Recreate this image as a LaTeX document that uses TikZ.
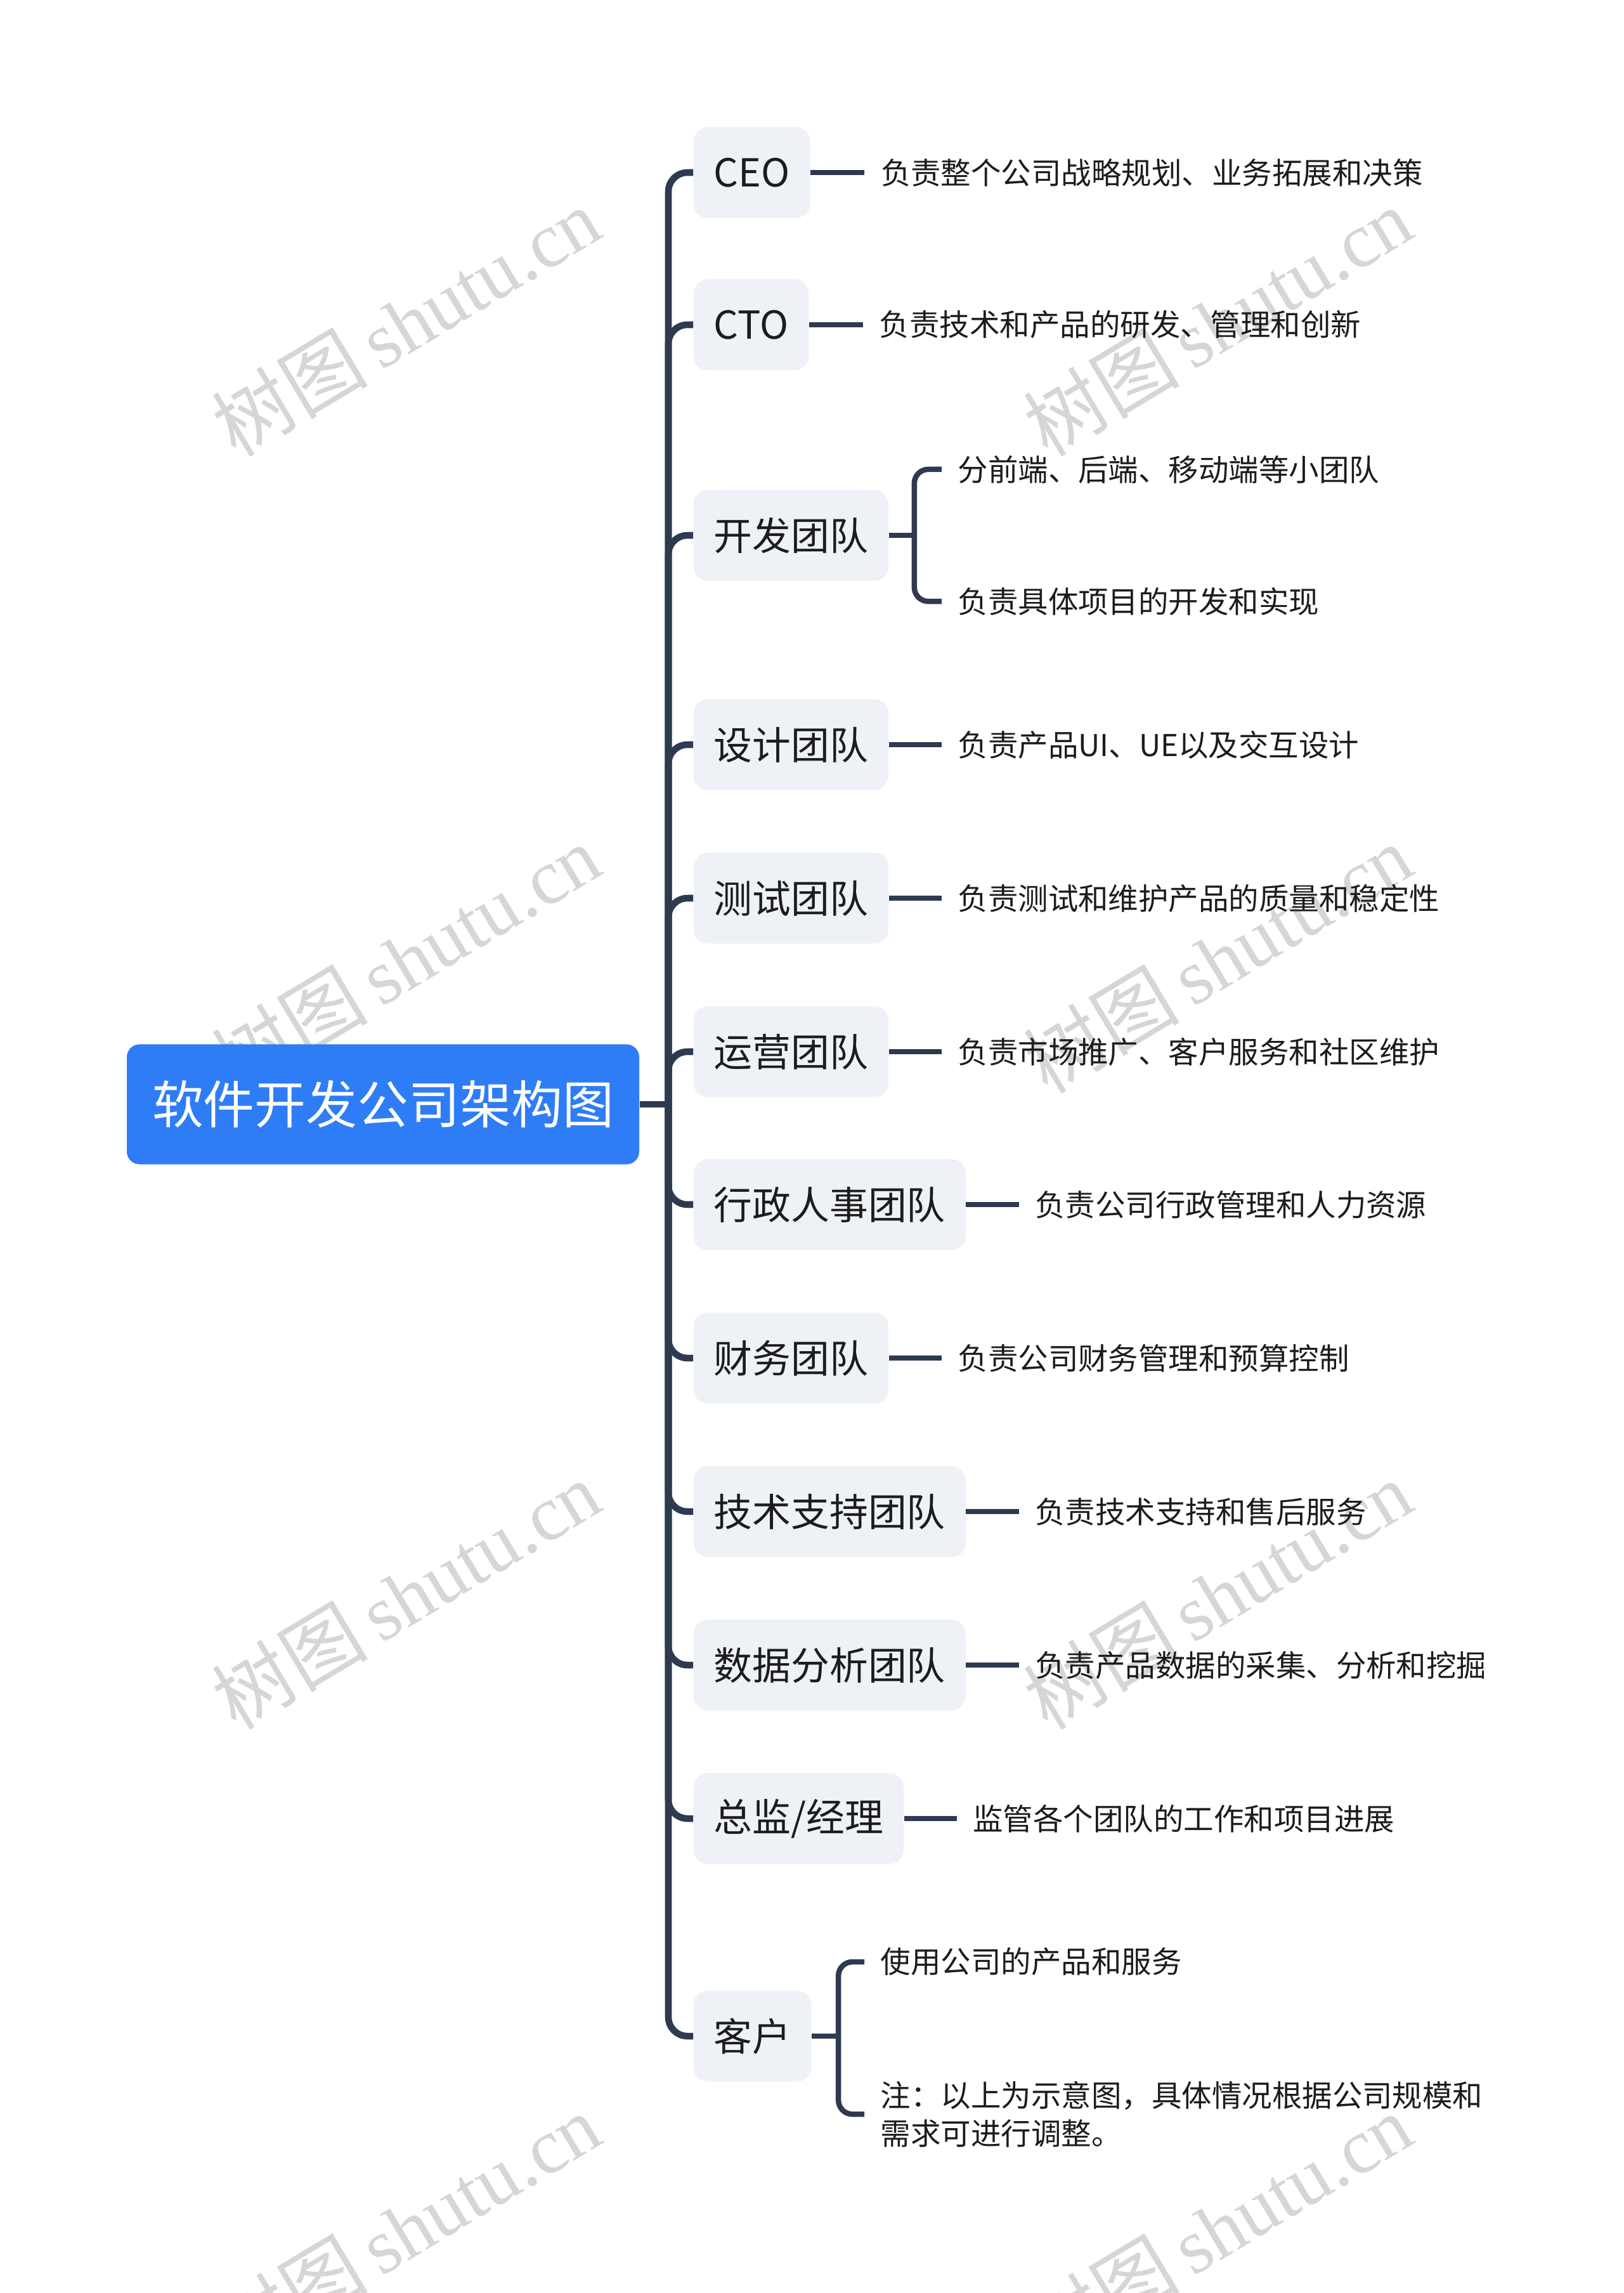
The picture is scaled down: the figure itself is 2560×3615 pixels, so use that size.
\documentclass[tikz,border=0pt]{standalone}
\usepackage{fontspec}
\setmainfont{Noto Sans CJK SC}
\newfontfamily\markfont{Liberation Serif}
\definecolor{rootblue}{RGB}{47,125,246}
\definecolor{branchgray}{RGB}{238,241,245}
\definecolor{linenavy}{RGB}{45,58,80}
\definecolor{textdark}{RGB}{28,28,28}
\definecolor{markgray}{RGB}{214,214,214}

\begin{document}
\begin{tikzpicture}[x=0.01cm,y=-0.01cm,
  root/.style={fill=rootblue, text=white, rounded corners=0.2cm, minimum height=1.89cm, inner xsep=0.4cm, font=\fontsize{23}{28}\selectfont},
  branch/.style={fill=branchgray, text=textdark, rounded corners=0.22cm, anchor=west, minimum height=1.43cm, inner xsep=0.32cm, font=\fontsize{17.3}{20}\selectfont},
  leaf/.style={anchor=west, text=textdark, inner xsep=0.25cm, align=left, font=\fontsize{13.5}{17}\selectfont},
  trunk/.style={draw=linenavy, line width=3pt, rounded corners=0.3cm},
  link/.style={draw=linenavy, line width=2.4pt, rounded corners=0.22cm},
  wmark/.style={text=markgray, rotate=31, font=\fontsize{35}{40}\selectfont}]
  \useasboundingbox (0,0) rectangle (2560,3615);
  \fill[white] (0,0) rectangle (2560,3615);

  % Watermarks
  \foreach \wx in {640,1920}
    \foreach \wy in {507,1511,2514,3512}
      \node[wmark] (wm-\wx-\wy) at (\wx,\wy) {树图\,{\markfont shutu.cn}};

  % Root
  \node[root] (root) at (604,1741) {软件开发公司架构图};
  \coordinate (hub) at (1054,1741);
  \draw[trunk] (root.east) -- (hub);

  % Branches
  \node[branch] (ceo) at (1093,272) {CEO};
  \node[branch] (cto) at (1093,512) {CTO};
  \node[branch] (dev) at (1093,844) {开发团队};
  \node[branch] (design) at (1093,1174) {设计团队};
  \node[branch] (test) at (1093,1416) {测试团队};
  \node[branch] (ops) at (1093,1658) {运营团队};
  \node[branch] (admin) at (1093,1899) {行政人事团队};
  \node[branch] (fin) at (1093,2141) {财务团队};
  \node[branch] (support) at (1093,2383) {技术支持团队};
  \node[branch] (data) at (1093,2625) {数据分析团队};
  \node[branch] (mgr) at (1093,2867) {总监/经理};
  \node[branch] (cust) at (1093,3210) {客户};

  \foreach \b in {ceo,cto,dev,design,test,ops,admin,fin,support,data,mgr,cust}
    \draw[trunk] (hub) |- (\b.west);

  % Leaves
  \node[leaf] (ceoL) at ([xshift=0.85cm]ceo.east) {负责整个公司战略规划、业务拓展和决策};
  \node[leaf] (ctoL) at ([xshift=0.85cm]cto.east) {负责技术和产品的研发、管理和创新};
  \node[leaf] (devA) at ([xshift=0.83cm,yshift=1.04cm]dev.east) {分前端、后端、移动端等小团队};
  \node[leaf] (devB) at ([xshift=0.83cm,yshift=-1.04cm]dev.east) {负责具体项目的开发和实现};
  \node[leaf] (designL) at ([xshift=0.83cm]design.east) {负责产品UI、UE以及交互设计};
  \node[leaf] (testL) at ([xshift=0.83cm]test.east) {负责测试和维护产品的质量和稳定性};
  \node[leaf] (opsL) at ([xshift=0.83cm]ops.east) {负责市场推广、客户服务和社区维护};
  \node[leaf] (adminL) at ([xshift=0.83cm]admin.east) {负责公司行政管理和人力资源};
  \node[leaf] (finL) at ([xshift=0.83cm]fin.east) {负责公司财务管理和预算控制};
  \node[leaf] (supportL) at ([xshift=0.83cm]support.east) {负责技术支持和售后服务};
  \node[leaf] (dataL) at ([xshift=0.83cm]data.east) {负责产品数据的采集、分析和挖掘};
  \node[leaf] (mgrL) at ([xshift=0.83cm]mgr.east) {监管各个团队的工作和项目进展};
  \node[leaf] (custA) at ([xshift=0.83cm,yshift=1.17cm]cust.east) {使用公司的产品和服务};
  \node[leaf] (custB) at ([xshift=0.83cm,yshift=-1.23cm]cust.east) {注：以上为示意图，具体情况根据公司规模和\\需求可进行调整。};

  \foreach \b in {ceo,cto,design,test,ops,admin,fin,support,data,mgr}
    \draw[link] (\b.east) -- (\b L.west);

  % Brackets
  \coordinate (devJ) at ([xshift=0.4cm]dev.east);
  \draw[link] (dev.east) -- (devJ);
  \draw[link] (devJ) |- (devA.west);
  \draw[link] (devJ) |- (devB.west);
  \coordinate (custJ) at ([xshift=0.42cm]cust.east);
  \draw[link] (cust.east) -- (custJ);
  \draw[link] (custJ) |- (custA.west);
  \draw[link] (custJ) |- (custB.west);
\end{tikzpicture}
\end{document}
